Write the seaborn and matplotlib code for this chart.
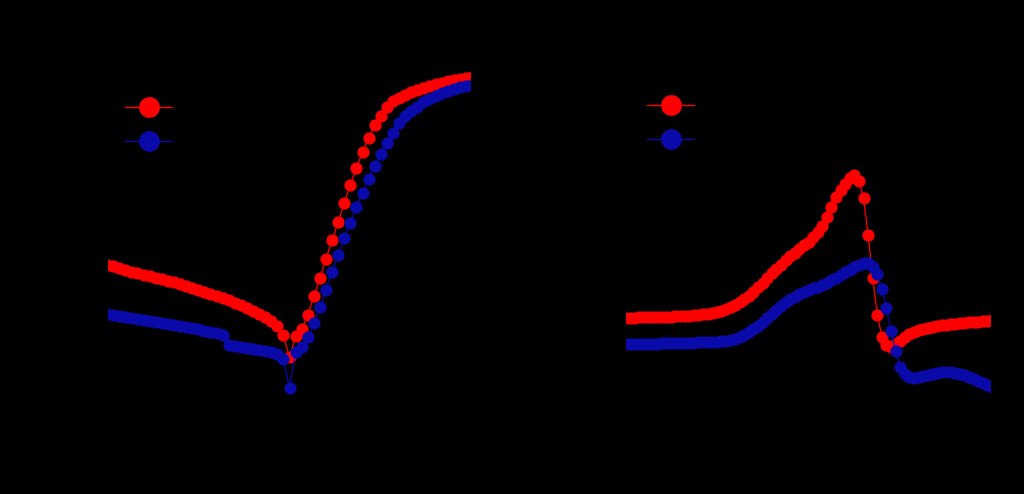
import numpy as np
import pandas as pd
import matplotlib
matplotlib.use("Agg")
import matplotlib.pyplot as plt
import seaborn as sns
from matplotlib.lines import Line2D
from matplotlib.ticker import FixedLocator, FuncFormatter

# ---------------- data ----------------
# J-V sweep (left panel), exponents of current density in A/cm^2
V_IV = [-1.50, -1.45, -1.40, -1.35, -1.30, -1.25, -1.20, -1.15, -1.10, -1.05,
        -1.00, -0.95, -0.90, -0.85, -0.80, -0.75, -0.70, -0.65, -0.60, -0.55,
        -0.50, -0.45, -0.40, -0.35, -0.30, -0.25, -0.20, -0.15, -0.10, -0.05,
        0.00, 0.05, 0.10, 0.15, 0.20, 0.25, 0.30, 0.35, 0.40, 0.45,
        0.50, 0.55, 0.60, 0.65, 0.70, 0.75, 0.80, 0.85, 0.90, 0.95,
        1.00, 1.05, 1.10, 1.15, 1.20, 1.25, 1.30, 1.35, 1.40, 1.45, 1.50]
logJ_300 = [-6.40, -6.45, -6.51, -6.57, -6.62, -6.67, -6.72, -6.77, -6.82, -6.87,
            -6.92, -6.98, -7.04, -7.10, -7.16, -7.22, -7.29, -7.36, -7.43, -7.50,
            -7.58, -7.66, -7.75, -7.84, -7.93, -8.04, -8.15, -8.28, -8.43, -8.75,
            -9.47, -8.77, -8.53, -8.07, -7.45, -6.83, -6.20, -5.57, -4.97, -4.33,
            -3.73, -3.17, -2.63, -2.17, -1.75, -1.42, -1.15, -0.95, -0.82, -0.72,
            -0.63, -0.56, -0.49, -0.43, -0.38, -0.33, -0.28, -0.24, -0.20, -0.16, -0.12]
logJ_600 = [-8.03, -8.06, -8.10, -8.13, -8.16, -8.20, -8.23, -8.27, -8.30, -8.34,
            -8.37, -8.41, -8.44, -8.48, -8.51, -8.55, -8.59, -8.63, -8.67, -8.72,
            -9.08, -9.11, -9.14, -9.17, -9.20, -9.23, -9.26, -9.30, -9.36, -9.55,
            -10.50, -9.30, -9.13, -8.80, -8.35, -7.80, -7.23, -6.63, -6.07, -5.50,
            -5.00, -4.47, -4.00, -3.53, -3.10, -2.70, -2.33, -2.00, -1.67, -1.45,
            -1.28, -1.12, -0.98, -0.86, -0.76, -0.67, -0.59, -0.53, -0.48, -0.43, -0.39]

# C-V sweep (right panel), capacitance density in fF/um^2
V_CV = [-2.00, -1.95, -1.90, -1.85, -1.80, -1.75, -1.70, -1.65, -1.60, -1.55,
        -1.50, -1.45, -1.40, -1.35, -1.30, -1.25, -1.20, -1.15, -1.10, -1.05,
        -1.00, -0.95, -0.90, -0.85, -0.80, -0.75, -0.70, -0.65, -0.60, -0.55,
        -0.50, -0.45, -0.40, -0.35, -0.30, -0.25, -0.20, -0.15, -0.10, -0.05,
        0.00, 0.05, 0.10, 0.15, 0.20, 0.25, 0.30, 0.35, 0.40, 0.45,
        0.50, 0.55, 0.60, 0.65, 0.70, 0.75, 0.80, 0.85, 0.90, 0.95,
        1.00, 1.05, 1.10, 1.15, 1.20, 1.25, 1.30, 1.35, 1.40, 1.45,
        1.50, 1.55, 1.60, 1.65, 1.70, 1.75, 1.80, 1.85, 1.90, 1.95, 2.00]
C_300 = [11.50, 11.50, 11.50, 11.51, 11.52, 11.52, 11.53, 11.54, 11.55, 11.56,
         11.57, 11.59, 11.61, 11.63, 11.65, 11.68, 11.71, 11.75, 11.80, 11.86,
         11.93, 12.02, 12.12, 12.25, 12.42, 12.62, 12.85, 13.12, 13.42, 13.74,
         14.08, 14.42, 14.76, 15.10, 15.42, 15.73, 16.02, 16.30, 16.57, 16.83,
         17.10, 17.42, 17.80, 18.30, 18.90, 19.70, 20.40, 20.95, 21.40, 21.80,
         22.00, 21.60, 20.30, 17.60, 14.40, 11.70, 10.10, 9.47, 9.33, 9.55,
         9.75, 10.05, 10.28, 10.45, 10.58, 10.68, 10.76, 10.83, 10.89, 10.94,
         10.98, 11.02, 11.06, 11.09, 11.12, 11.15, 11.18, 11.20, 11.23, 11.26, 11.30]
C_600 = [9.55, 9.55, 9.56, 9.56, 9.57, 9.57, 9.58, 9.58, 9.59, 9.60,
         9.60, 9.61, 9.62, 9.63, 9.64, 9.65, 9.66, 9.67, 9.68, 9.70,
         9.72, 9.76, 9.80, 9.86, 9.95, 10.07, 10.22, 10.40, 10.62, 10.88,
         11.15, 11.45, 11.75, 12.05, 12.35, 12.62, 12.85, 13.05, 13.22, 13.38,
         13.52, 13.65, 13.78, 13.92, 14.08, 14.25, 14.45, 14.65, 14.85, 15.05,
         15.25, 15.40, 15.50, 15.50, 15.20, 14.70, 13.60, 12.20, 10.50, 9.00,
         7.85, 7.35, 7.12, 7.05, 7.08, 7.15, 7.25, 7.35, 7.42, 7.47,
         7.48, 7.46, 7.42, 7.35, 7.25, 7.12, 6.98, 6.85, 6.70, 6.55, 6.40]

series_labels = [r"TiO$_\mathbf{x}$ 100cyc.", r"TiO$_\mathbf{x}$ 300cyc.", r"TiO$_\mathbf{x}$ 600cyc."]
series_colors = ["#000000", "#FF0000", "#0A0AAA"]
log_ticks = list(range(-11, 2))
cap_ticks = list(range(6, 33, 2))
iv_xticks = [-1.5, -1.0, -0.5, 0.0, 0.5, 1.0, 1.5]
cv_xticks = [-2.0, -1.5, -1.0, -0.5, 0.0, 0.5, 1.0, 1.5, 2.0]

# ---------------- style ----------------
sns.set_theme(style="ticks")
plt.rcParams["font.family"] = ["Liberation Sans", "DejaVu Sans"]
plt.rcParams["font.weight"] = "bold"
plt.rcParams["axes.labelweight"] = "bold"
plt.rcParams["mathtext.fontset"] = "custom"
plt.rcParams["mathtext.rm"] = "Liberation Sans:bold"
plt.rcParams["mathtext.bf"] = "Liberation Sans:bold"
plt.rcParams["mathtext.default"] = "bf"
for k in ["text.color", "axes.labelcolor", "xtick.color", "ytick.color", "axes.edgecolor"]:
    plt.rcParams[k] = "black"

fig = plt.figure(figsize=(10.24, 4.94), dpi=100, facecolor="black")
W, H = 1024, 494
top_px, bot_px = 27, 406
axL = fig.add_axes([107 / W, 1 - bot_px / H, 365 / W, (bot_px - top_px) / H])
axR = fig.add_axes([625 / W, 1 - bot_px / H, 367 / W, (bot_px - top_px) / H])
for ax in (axL, axR):
    ax.set_facecolor("black")

df_iv = pd.DataFrame({
    "V": V_IV * 2,
    "J": [10.0 ** e for e in logJ_300] + [10.0 ** e for e in logJ_600],
    "s": ["300"] * len(V_IV) + ["600"] * len(V_IV),
})
df_cv = pd.DataFrame({
    "V": V_CV * 2,
    "C": C_300 + C_600,
    "s": ["300"] * len(V_CV) + ["600"] * len(V_CV),
})

mk = dict(marker="o", markersize=8.8, markeredgewidth=0, linewidth=0.9)
for s, col in zip(["300", "600"], series_colors[1:]):
    sns.lineplot(data=df_iv[df_iv.s == s], x="V", y="J", color=col, ax=axL, sort=False, **mk)
    sns.lineplot(data=df_cv[df_cv.s == s], x="V", y="C", color=col, ax=axR, sort=False, **mk)

# left axes
axL.set_yscale("log")
axL.set_xlim(-1.5, 1.5)
axL.set_ylim(10 ** (-11.1), 10 ** 1.533)
axL.yaxis.set_major_locator(FixedLocator([10.0 ** e for e in log_ticks]))
axL.yaxis.set_minor_locator(FixedLocator([]))
axL.yaxis.set_major_formatter(FuncFormatter(lambda v, p: r"$\mathbf{10^{%d}}$" % round(np.log10(v))))
axL.set_xticks(iv_xticks)
axL.set_xticklabels([f"{t:.1f}" for t in iv_xticks])
axL.set_xlabel("Applied Voltage [V]", fontsize=18, fontweight="bold")
axL.set_ylabel("Current Density [A/cm²]", fontsize=18, fontweight="bold")

# right axes
axR.set_xlim(-2.0, 2.0)
axR.set_ylim(4.97, 32.96)
axR.set_yticks(cap_ticks)
axR.set_xticks(cv_xticks)
axR.set_xticklabels([f"{t:.1f}" for t in cv_xticks])
axR.set_xlabel("Applied Voltage [V]", fontsize=18, fontweight="bold")
axR.set_ylabel("Capacitance Density [fF/μm²]", fontsize=18, fontweight="bold")

for ax in (axL, axR):
    ax.tick_params(axis="both", direction="in", labelsize=13, width=1.2, length=5)
    for lab in ax.get_xticklabels() + ax.get_yticklabels():
        lab.set_fontweight("bold")
    for sp in ax.spines.values():
        sp.set_color("black")
        sp.set_linewidth(1.5)
    ax.xaxis.set_label_coords(0.5, -0.125)

axL.yaxis.set_label_coords(-0.19, 0.47)
axR.yaxis.set_label_coords(-0.128, 0.49)

handles = [Line2D([], [], color=c, marker="o", markersize=15, markeredgewidth=0, linewidth=1)
           for c in series_colors]
for ax, anchor in ((axL, (125 / W, 1 - 65 / H)), (axR, (647 / W, 1 - 63 / H))):
    ax.legend(handles, series_labels, loc="upper left", bbox_to_anchor=anchor,
              bbox_transform=fig.transFigure, frameon=False, fontsize=11,
              handlelength=3.1, handletextpad=0.5, labelspacing=1.05,
              borderpad=0, borderaxespad=0, prop={"weight": "bold", "size": 11})

fig.savefig("out.png", dpi=100, facecolor="black")
